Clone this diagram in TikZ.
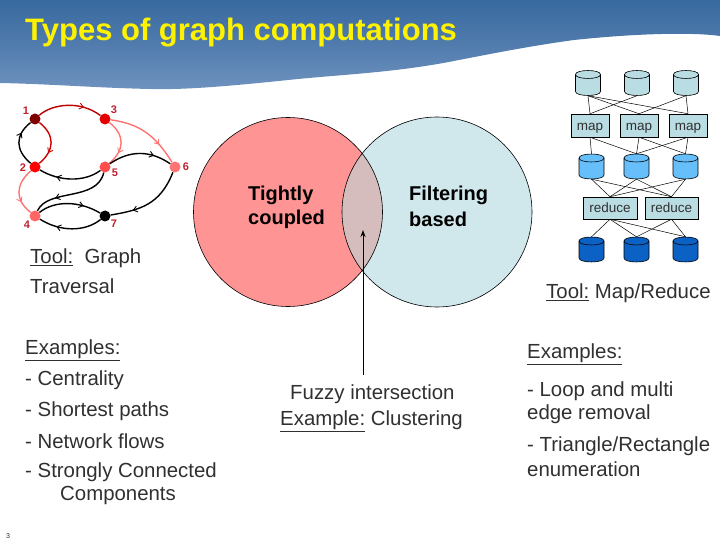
\documentclass[tikz,border=0pt]{standalone}
\usepackage{fontspec}
\setmainfont{Liberation Sans}
\usetikzlibrary{decorations.markings,arrows.meta}
\definecolor{hdtop}{HTML}{38699F}
\definecolor{hdbot}{HTML}{6F93BF}
\definecolor{txt}{HTML}{303030}
\definecolor{lab}{HTML}{C02030}
\definecolor{cylA}{HTML}{B9DDE3}
\definecolor{cylB}{HTML}{66BFFA}
\definecolor{cylC}{HTML}{0B62C4}
\definecolor{boxc}{HTML}{B9DDE3}
\definecolor{vennL}{HTML}{FF9494}
\definecolor{vennR}{HTML}{D0E7EB}
\definecolor{vennM}{HTML}{D5BCBD}
\tikzset{
  x=1pt,y=-1pt,
  para/.style={anchor=west,inner sep=0pt,text=txt,font=\fontsize{20.4}{20.4}\selectfont},
  bigb/.style={anchor=west,inner sep=0pt,text=black,font=\fontsize{20}{20}\selectfont\bfseries},
  gn/.style={circle,inner sep=0pt,minimum size=11pt,draw=none},
  glab/.style={inner sep=0pt,text=lab,font=\fontsize{11}{11}\selectfont\bfseries},
  ge/.style={line width=1.4pt,draw=#1,postaction={decorate},
    decoration={markings,mark=at position 0.72 with {\arrow[#1,line width=.9pt]{Straight Barb[length=4pt,width=6pt]}}}},
  cylbox/.style={inner sep=0pt,minimum width=25pt,minimum height=25pt,draw=none},
  opbox/.style={draw=black,line width=.5pt,fill=boxc,inner sep=0pt,text=txt,font=\fontsize{13.5}{13.5}\selectfont,anchor=center,text depth=0pt,text height=10pt},
  wire/.style={draw=black,line width=.5pt},
}
\newcommand{\dbcyl}[4]{%
  \node[cylbox] (#1) at (#2,#3) {};
  \begin{scope}[shift={(#2,#3)}]
    \draw[fill=#4,line width=.6pt] (-12.5,-8.5) -- (-12.5,8.5) .. controls (-12.5,13.8) and (12.5,13.8) .. (12.5,8.5)
      -- (12.5,-8.5) .. controls (12.5,-13.8) and (-12.5,-13.8) .. (-12.5,-8.5) -- cycle;
    \draw[line width=.6pt] (-12.5,-8.5) .. controls (-12.5,-3.2) and (12.5,-3.2) .. (12.5,-8.5);
  \end{scope}}
\begin{document}
\begin{tikzpicture}
\useasboundingbox (0,0) rectangle (720,540);
\clip (0,0) rectangle (720,540);
% header
\begin{scope}
\clip (0,0) -- (720,0) -- (720,36) .. controls (700,33) and (650,32) .. (574,40)
  .. controls (530,46) and (490,54) .. (459,60) .. controls (400,72) and (350,74) .. (298,79)
  .. controls (240,85) and (190,90) .. (151,89) .. controls (100,88) and (50,84) .. (0,83) -- cycle;
\shade[top color=hdtop,bottom color=hdbot,middle color=hdtop!55!hdbot] (0,0) rectangle (720,90);
\end{scope}
\node[anchor=west,inner sep=0pt,text=yellow,font=\fontsize{31}{31}\selectfont\bfseries] (title) at (25,33) {Types of graph computations};
% venn
\fill[vennL] (288,212) circle (94.5);
\fill[vennR] (437,212) circle (95);
\begin{scope}
\clip (288,212) circle (94.5);
\fill[vennM] (437,212) circle (95);
\end{scope}
\draw[line width=.6pt] (288,212) circle (94.5);
\draw[line width=.6pt] (437,212) circle (95);
\node[bigb] (tc1) at (248,195) {Tightly};
\node[bigb] (tc2) at (248,219) {coupled};
\node[bigb] (fb1) at (409,195) {Filtering};
\node[bigb] (fb2) at (409,219) {based};
% fuzzy
\node[para] (fz) at (290,394) {Fuzzy intersection};
\node[para] (ex) at (280,421) {\underline{Example:} Clustering};
\coordinate (tip) at (363,230);
\coordinate (tail) at (363,375);
\draw[line width=.9pt,-{Stealth[length=7pt,width=5pt]}] (tail) -- (tip);
% graph
\node[gn,fill=black!50!red] (n1) at (35,119) {};
\node[gn,fill=red!90!black] (n3) at (105,119) {};
\node[gn,fill=red] (n2) at (35,167) {};
\node[gn,fill=red!70!white] (n5) at (105,167) {};
\node[gn,fill=red!55!white] (n6) at (175,167) {};
\node[gn,fill=red!60!white] (n4) at (35,216) {};
\node[gn,fill=black] (n7) at (105,216) {};
\draw[ge=red!75!black] (n1) .. controls (52,104) and (80,100) .. (n3);
\draw[ge=black] (n2) .. controls (15,150) and (15,135) .. (n1);
\draw[ge=red!80!black] (n1) .. controls (55,135) and (55,150) .. (n2);
\draw[ge=red!55!white] (n3) .. controls (125,135) and (125,150) .. (n5);
\draw[ge=red!55!white] (n3) .. controls (140,124) and (155,135) .. (n6);
\draw[ge=black] (n5) .. controls (130,150) and (150,150) .. (n6);
\draw[ge=black] (n5) .. controls (85,182) and (60,182) .. (n2);
\draw[ge=red!55!white] (n2) .. controls (15,185) and (15,200) .. (n4);
\draw[ge=black] (n5) .. controls (97,202) and (48,188) .. (n4);
\draw[ge=black] (n4) .. controls (55,200) and (80,201) .. (n7);
\draw[ge=black] (n7) .. controls (85,232) and (60,232) .. (n4);
\draw[ge=black] (n6) .. controls (160,205) and (140,210) .. (n7);
\node[glab] (l1) at (26,111) {1};
\node[glab] (l3) at (114,110) {3};
\node[glab] (l2) at (23,168) {2};
\node[glab] (l5) at (115,173) {5};
\node[glab] (l6) at (186,167) {6};
\node[glab] (l4) at (27,225) {4};
\node[glab] (l7) at (114,224) {7};
% left text
\node[para] (t1) at (30,258) {\underline{Tool:}~~Graph};
\node[para] (t2) at (30,286) {Traversal};
\node[para] (e0) at (25,350) {\underline{Examples:}};
\node[para] (e1) at (25,380) {- Centrality};
\node[para] (e2) at (25,411) {- Shortest paths};
\node[para] (e3) at (25,441) {- Network flows};
\node[para] (e4) at (25,472) {- Strongly Connected};
\node[para] (e5) at (60,495) {Components};
% right text
\node[para] (r1) at (546,293) {\underline{Tool:} Map/Reduce};
\node[para] (r2) at (527,354) {\underline{Examples:}};
\node[para] (r3) at (527,391) {- Loop and multi};
\node[para] (r4) at (527,414) {edge removal};
\node[para] (r5) at (527,446) {- Triangle/Rectangle};
\node[para] (r6) at (527,469) {enumeration};
% map reduce
\dbcyl{a1}{588}{83}{cylA}
\dbcyl{a2}{637}{83}{cylA}
\dbcyl{a3}{686}{83}{cylA}
\dbcyl{b1}{591.5}{166.5}{cylB}
\dbcyl{b2}{636.5}{166.5}{cylB}
\dbcyl{b3}{685.5}{166.5}{cylB}
\dbcyl{c1}{591.5}{249.5}{cylC}
\dbcyl{c2}{636.5}{249.5}{cylC}
\dbcyl{c3}{685.5}{249.5}{cylC}
\node[opbox,minimum width=38pt,minimum height=23pt] (m1) at (590,125.5) {map};
\node[opbox,minimum width=38pt,minimum height=23pt] (m2) at (639,125.5) {map};
\node[opbox,minimum width=38pt,minimum height=23pt] (m3) at (688,125.5) {map};
\node[opbox,minimum width=54pt,minimum height=22pt] (d1) at (610,208) {reduce};
\node[opbox,minimum width=53pt,minimum height=22pt] (d2) at (671.5,208) {reduce};
\draw[wire] (a1.south) -- (m1.north);
\draw[wire] (a1.south) -- (m2.north);
\draw[wire] (a1.south) -- (m3.north);
\draw[wire] (a2.south) -- (m1.north);
\draw[wire] (a3.south) -- (m2.north);
\draw[wire] (a3.south) -- (m3.north);
\draw[wire] (m1.south) -- (b1.north);
\draw[wire] (m1.south) -- (b2.north);
\draw[wire] (m2.south) -- (b2.north);
\draw[wire] (m2.south) -- (b3.north);
\draw[wire] (m3.south) -- (b2.north);
\draw[wire] (m3.south) -- (b3.north);
\draw[wire] (b1.south) -- (d1.north);
\draw[wire] (b1.south) -- (d2.north);
\draw[wire] (b2.south) -- (d1.north);
\draw[wire] (b2.south) -- (d2.north);
\draw[wire] (b3.south) -- (d1.north);
\draw[wire] (b3.south) -- (d2.north);
\draw[wire] (d1.south) -- (c1.north);
\draw[wire] (d1.south) -- (c2.north);
\draw[wire] (d1.south) -- (c3.north);
\draw[wire] (d2.south) -- (c2.north);
\draw[wire] (d2.south) -- (c3.north);
\node[anchor=west,inner sep=0pt,text=txt,font=\fontsize{7}{7}\selectfont] (pg) at (6,536) {3};
\end{tikzpicture}
\end{document}
